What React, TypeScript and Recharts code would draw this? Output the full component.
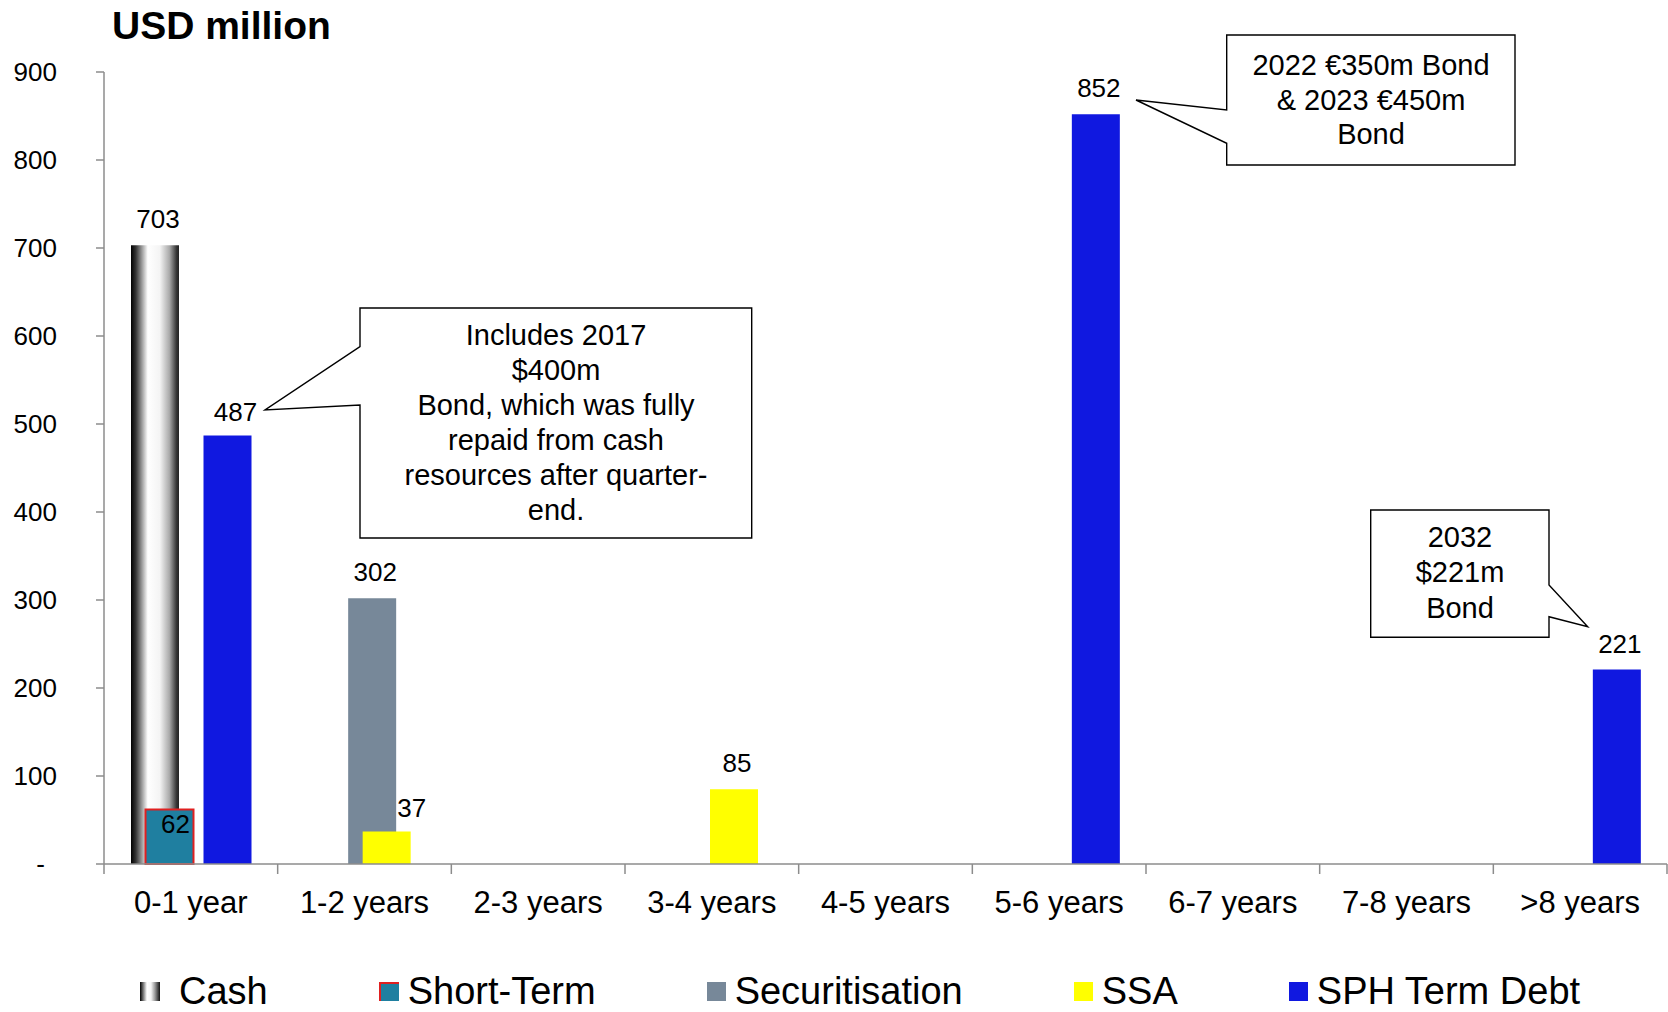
import React from 'react';
import { BarChart, Bar, XAxis, YAxis, Legend, LabelList } from 'recharts';

const FONT = "'Liberation Sans', Arial, sans-serif";
const AXIS = '#8c8c8c';

const categories = ['0-1 year', '1-2 years', '2-3 years', '3-4 years', '4-5 years', '5-6 years', '6-7 years', '7-8 years', '>8 years'];
const cash = [703, null, null, null, null, null, null, null, null];
const shortTerm = [62, null, null, null, null, null, null, null, null];
const securitisation = [null, 302, null, null, null, null, null, null, null];
const ssa = [null, 37, null, 85, null, null, null, null, null];
const sphTermDebt = [487, null, null, null, null, 852, null, null, 221];
const yTicks = [0, 100, 200, 300, 400, 500, 600, 700, 800, 900];

const seriesNames = ['Cash', 'Short-Term', 'Securitisation', 'SSA', 'SPH Term Debt'];
const seriesKeys = ['cash', 'shortTerm', 'securitisation', 'ssa', 'sph'];

const data = categories.map((name, i) => ({
  name,
  cash: cash[i],
  shortTerm: shortTerm[i],
  gap: null, // empty slot, excel had a blank series here
  securitisation: securitisation[i],
  ssa: ssa[i],
  sph: sphTermDebt[i],
}));

// label nudges (dx, dy from bar top to baseline), keyed by series + value
const labelOffsets: Record<string, [number, number]> = {
  'shortTerm-62': [6, 23.5],
  'ssa-37': [25, -14],
  'sph-487': [8, -14],
};

const makeLabel = (key: string) => (props: any) => {
  const { x, y, width, value } = props;
  if (value === null || value === undefined) return null;
  const [dx, dy] = labelOffsets[`${key}-${value}`] || [3, -17];
  return (
    <text x={Number(x) + Number(width) / 2 + dx} y={Number(y) + dy} textAnchor='middle' fontSize={26} fontFamily={FONT} fill='#000'>
      {value}
    </text>
  );
};

const XTick = (props: any) => {
  const { x, y, payload, index } = props;
  const half = payload && payload.offset ? payload.offset : 86.8;
  return (
    <g>
      <line x1={x - half} x2={x - half} y1={y} y2={y + 10} stroke={AXIS} strokeWidth={1.5} />
      {index === categories.length - 1 && (
        <line x1={x + half} x2={x + half} y1={y} y2={y + 10} stroke={AXIS} strokeWidth={1.5} />
      )}
      <text x={x} y={y + 48.5} textAnchor='middle' fontSize={31} fontFamily={FONT} fill='#000'>
        {payload.value}
      </text>
    </g>
  );
};

const YTick = (props: any) => {
  const { x, y, payload } = props;
  const zero = payload.value === 0;
  return (
    <text x={zero ? x - 51 : x - 39} y={y + 9} textAnchor='end' fontSize={26} fontFamily={FONT} fill='#000'>
      {zero ? '-' : payload.value}
    </text>
  );
};

const legendIcon = (key: string) => {
  const base: React.CSSProperties = { width: 19, height: 19, marginTop: 9.5, marginRight: 9, boxSizing: 'border-box' };
  if (key === 'cash')
    return <div style={{ ...base, width: 20, marginRight: 19, background: 'linear-gradient(90deg,#000 0%,#fff 35%,#f5f5f5 55%,#999 75%,#111 100%)' }} />;
  if (key === 'shortTerm')
    return <div style={{ ...base, width: 20, background: '#1f7fa0', borderTop: '2px solid #e02020', borderLeft: '2px solid #e02020' }} />;
  const colors: Record<string, string> = { securitisation: '#778899', ssa: '#ffff00', sph: '#1018e0' };
  return <div style={{ ...base, background: colors[key] }} />;
};

const LegendContent = () => (
  <div style={{ display: 'flex', alignItems: 'flex-start', height: 50, paddingLeft: 140, paddingTop: 10, boxSizing: 'border-box', gap: 111 }}>
    {seriesKeys.map((k, i) => (
      <div key={k} style={{ display: 'flex', alignItems: 'flex-start' }}>
        {legendIcon(k)}
        <span style={{ fontSize: 38, lineHeight: '38px', fontFamily: FONT, color: '#000', whiteSpace: 'nowrap' }}>{seriesNames[i]}</span>
      </div>
    ))}
  </div>
);

const calloutText = { fontSize: 29, fontFamily: FONT, fill: '#000', textAnchor: 'middle' as const };

const Overlay = () => (
  <svg width={1668} height={1012} style={{ position: 'absolute', left: 0, top: 0, pointerEvents: 'none' }}>
    <text x={112} y={39} fontSize={39} fontWeight='bold' fontFamily={FONT} fill='#000'>USD million</text>

    <path d='M360,308 H751.7 V538 H360 V405 L265,410 L360,346.7 Z' fill='#fff' stroke='#000' strokeWidth={1.4} />
    <text {...calloutText} x={556} y={345}>Includes 2017</text>
    <text {...calloutText} x={556} y={380}>$400m</text>
    <text {...calloutText} x={556} y={415}>Bond, which was fully</text>
    <text {...calloutText} x={556} y={450}>repaid from cash</text>
    <text {...calloutText} x={556} y={485}>resources after quarter-</text>
    <text {...calloutText} x={556} y={520}>end.</text>

    <path d='M1226.7,35 H1515 V165 H1226.7 V143.3 L1136,100 L1226.7,110 Z' fill='#fff' stroke='#000' strokeWidth={1.4} />
    <text {...calloutText} x={1371} y={75}>2022 €350m Bond</text>
    <text {...calloutText} x={1371} y={110}>&amp; 2023 €450m</text>
    <text {...calloutText} x={1371} y={144}>Bond</text>

    <path d='M1370.7,510 H1549 V585 L1587.7,626.7 L1549,616.7 V637.3 H1370.7 Z' fill='#fff' stroke='#000' strokeWidth={1.4} />
    <text {...calloutText} x={1460} y={547}>2032</text>
    <text {...calloutText} x={1460} y={582}>$221m</text>
    <text {...calloutText} x={1460} y={618}>Bond</text>
  </svg>
);

const App: React.FC = () => {
  return (
    <div style={{ position: 'absolute', left: 0, top: 0, width: 1668, height: 1012, background: '#fff', overflow: 'hidden' }}>
      <BarChart
        width={1668}
        height={1012}
        data={data}
        margin={{ top: 72, right: 1, bottom: 0, left: 0 }}
        barSize={48}
        barGap={-33.5}
      >
        <defs>
          <linearGradient id='cashGrad' x1='0' y1='0' x2='1' y2='0'>
            <stop offset='0%' stopColor='#000' />
            <stop offset='10%' stopColor='#333' />
            <stop offset='35%' stopColor='#fff' />
            <stop offset='60%' stopColor='#f4f4f4' />
            <stop offset='80%' stopColor='#aaa' />
            <stop offset='95%' stopColor='#333' />
            <stop offset='100%' stopColor='#222' />
          </linearGradient>
        </defs>
        <XAxis
          dataKey='name'
          height={98}
          interval={0}
          tickSize={0}
          tickMargin={0}
          tickLine={false}
          axisLine={{ stroke: AXIS, strokeWidth: 1.5 }}
          tick={<XTick />}
        />
        <YAxis
          width={104}
          domain={[0, 900]}
          ticks={yTicks}
          interval={0}
          tickSize={8}
          tickMargin={0}
          axisLine={{ stroke: AXIS, strokeWidth: 1.5 }}
          tickLine={{ stroke: AXIS, strokeWidth: 1.5 }}
          tick={<YTick />}
        />
        <Legend
          verticalAlign='bottom'
          content={<LegendContent />}
          wrapperStyle={{ left: 0, bottom: 0, width: 1668, height: 50 }}
        />
        <Bar dataKey='cash' name='Cash' fill='url(#cashGrad)' isAnimationActive={false}>
          <LabelList dataKey='cash' content={makeLabel('cash')} />
        </Bar>
        <Bar dataKey='shortTerm' name='Short-Term' fill='#1f7fa0' stroke='#e02020' strokeWidth={2} isAnimationActive={false}>
          <LabelList dataKey='shortTerm' content={makeLabel('shortTerm')} />
        </Bar>
        <Bar dataKey='gap' legendType='none' fill='none' isAnimationActive={false} />
        <Bar dataKey='securitisation' name='Securitisation' fill='#778899' isAnimationActive={false}>
          <LabelList dataKey='securitisation' content={makeLabel('securitisation')} />
        </Bar>
        <Bar dataKey='ssa' name='SSA' fill='#ffff00' isAnimationActive={false}>
          <LabelList dataKey='ssa' content={makeLabel('ssa')} />
        </Bar>
        <Bar dataKey='sph' name='SPH Term Debt' fill='#1018e0' isAnimationActive={false}>
          <LabelList dataKey='sph' content={makeLabel('sph')} />
        </Bar>
      </BarChart>
      <Overlay />
    </div>
  );
};

export default App;
